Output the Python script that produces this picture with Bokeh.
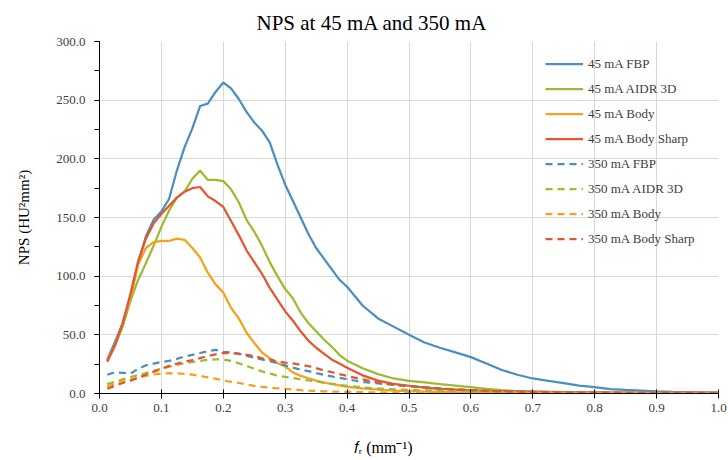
from bokeh.plotting import figure
from bokeh.models import (Range1d, SingleIntervalTicker, NumeralTickFormatter,
                          Legend, LegendItem, Title)
from bokeh.embed import file_html
from bokeh.resources import INLINE

# ---------------- data ----------------
freq = [0.0125, 0.025, 0.0375, 0.05, 0.0625, 0.075, 0.0875, 0.1, 0.1125, 0.125,
        0.1375, 0.15, 0.1625, 0.175, 0.1875, 0.2, 0.2125, 0.225, 0.2375, 0.25,
        0.2625, 0.275, 0.2875, 0.3, 0.3125, 0.325, 0.3375, 0.35, 0.3625, 0.375,
        0.3875, 0.4, 0.425, 0.45, 0.475, 0.5, 0.525, 0.55, 0.575, 0.6,
        0.625, 0.65, 0.675, 0.7, 0.725, 0.75, 0.775, 0.8, 0.825, 0.85,
        0.875, 0.9, 0.925, 0.95, 0.975, 1.0]

fbp_45 = [29, 44, 60, 82, 111, 134, 148, 155, 166, 190,
          210, 226, 245, 247, 257, 265, 260, 251, 240, 231,
          224, 214, 195, 178, 164, 150, 136, 124, 115, 106,
          97, 91, 75, 64, 57, 50, 43.5, 39, 35, 31,
          25.5, 20, 16, 12.8, 10.8, 8.8, 6.8, 5.4, 3.8, 3.1,
          2.5, 1.8, 1.4, 1.2, 1.0, 0.9]

aidr_45 = [28, 41, 57, 79, 97, 111, 126, 142, 156, 167,
           172, 183, 190, 182, 182, 181, 174, 163, 148, 138,
           126, 112, 100, 89, 81, 69, 60, 53, 46, 40,
           33, 28, 21.5, 16.5, 12.8, 10.8, 9.4, 8, 6.8, 5.4,
           4, 2.8, 2.1, 1.7, 1.4, 1.2, 1.0, 0.9, 0.8, 0.7,
           0.6, 0.6, 0.5, 0.5, 0.5, 0.4]

body_45 = [28, 41, 60, 82, 110, 124, 129, 130, 130, 132,
           131, 124, 116, 103, 93, 86, 73, 64, 52, 43,
           35, 30, 26, 23, 18, 15, 13, 11, 9.2, 8.1,
           6.9, 5.6, 4.3, 3.2, 2.4, 2, 1.6, 1.3, 1.1, 1,
           0.9, 0.8, 0.7, 0.6, 0.5, 0.5, 0.4, 0.4, 0.4, 0.4,
           0.3, 0.3, 0.3, 0.3, 0.3, 0.3]

sharp_45 = [27, 41, 60, 85, 113, 132, 145, 153, 160, 167,
            172, 175, 176, 168, 164, 159, 147, 135, 122, 112,
            102, 90, 80, 70, 62, 53, 45, 39, 34, 29,
            25.5, 22, 15.5, 11, 8.2, 6.6, 5, 4, 3.3, 2.6,
            2.2, 1.9, 1.7, 1.5, 1.3, 1.1, 1.0, 0.9, 0.8, 0.7,
            0.6, 0.6, 0.5, 0.5, 0.5, 0.4]

fbp_350 = [16, 18, 17.5, 17, 21, 24, 25.5, 26.8, 27.8, 29.5,
           31.6, 33, 34.5, 36, 37.2, 35.5, 35, 34, 32, 30.5,
           29, 27.5, 25.8, 24, 22, 20.3, 19, 17.3, 15.9, 14.6,
           13.3, 12.2, 9.8, 8.6, 7.4, 6.3, 5.3, 4.3, 3.5, 2.8,
           2.2, 1.8, 1.5, 1.2, 1.0, 0.9, 0.8, 0.7, 0.6, 0.6,
           0.5, 0.5, 0.5, 0.4, 0.4, 0.4]

aidr_350 = [8, 10, 12, 14, 15.7, 17.3, 19.3, 21, 22.8, 24.3,
            25.8, 26.8, 27.8, 28.7, 29, 29, 27.8, 25.8, 23.4, 21.2,
            18.8, 17, 15.3, 14.2, 13.1, 12, 11.2, 10.2, 9.3, 8.3,
            7.3, 6.6, 5.2, 4.3, 3.6, 3.1, 2.7, 2.4, 2.1, 1.8,
            1.5, 1.3, 1.1, 1.0, 0.9, 0.8, 0.7, 0.7, 0.6, 0.6,
            0.5, 0.5, 0.5, 0.4, 0.4, 0.4]

body_350 = [6, 8, 10, 11.7, 13.4, 15, 16.2, 17, 17.3, 17.2,
            16.8, 16, 15, 13.8, 12.6, 11.1, 10, 9, 7.6, 6.5,
            5.6, 5, 4.4, 4, 3.5, 2.9, 2.4, 2.1, 1.9, 1.7,
            1.5, 1.4, 1.1, 0.9, 0.8, 0.7, 0.6, 0.6, 0.5, 0.5,
            0.5, 0.4, 0.4, 0.4, 0.4, 0.3, 0.3, 0.3, 0.3, 0.3,
            0.3, 0.2, 0.2, 0.2, 0.2, 0.2]

sharp_350 = [4, 6.5, 9, 11, 13.5, 16, 18.5, 21, 23.5, 25.5,
             27, 28.5, 30.2, 32, 33.3, 34.6, 34.3, 33.8, 33, 32,
             30, 29, 27.3, 26.4, 25.6, 24.4, 23.3, 21.6, 19.6, 18.3,
             16.5, 15, 12, 9.4, 7.5, 6.3, 5.3, 4.2, 3.4, 2.8,
             2.3, 1.9, 1.6, 1.3, 1.1, 1.0, 0.9, 0.8, 0.7, 0.6,
             0.6, 0.5, 0.5, 0.5, 0.4, 0.4]

series_names = ["45 mA FBP", "45 mA AIDR 3D", "45 mA Body", "45 mA Body Sharp",
                "350 mA FBP", "350 mA AIDR 3D", "350 mA Body", "350 mA Body Sharp"]
series_values = [fbp_45, aidr_45, body_45, sharp_45,
                 fbp_350, aidr_350, body_350, sharp_350]

title_text = "NPS at 45 mA and 350 mA"
y_label_text = "NPS (HU\u00b2mm\u00b2)"
x_label_text = "\U0001d453\u1d63 (mm\u207b\u00b9)"

# ---------------- styling ----------------
BLUE, GREEN, ORANGE, RED = "#4a8fbf", "#9cbb2f", "#f7a01c", "#e4572e"
colors = [BLUE, GREEN, ORANGE, RED, BLUE, GREEN, ORANGE, RED]
dashes = ["solid"] * 4 + ["7 5"] * 4
FONT = "Liberation Serif"
TXT = "#404040"

p = figure(width=728, height=460, output_backend="svg", toolbar_location=None,
           x_range=Range1d(0, 1), y_range=Range1d(0, 300),
           min_border_left=99, min_border_right=10, min_border_top=41,
           min_border_bottom=67)
p.outline_line_color = None
p.background_fill_color = "white"
p.border_fill_color = "white"

p.title.text = title_text
p.title.align = "left"
p.title.offset = 157
p.title.text_font = FONT
p.title.text_font_size = "21px"
p.title.text_font_style = "normal"
p.title.text_color = "black"
p.title.standoff = 14

items = []
for name, vals, c, d in zip(series_names, series_values, colors, dashes):
    r = p.line(freq, vals, line_color=c, line_width=2.25, line_dash=d)
    items.append(LegendItem(label=name, renderers=[r]))

# axes
p.xaxis.ticker = SingleIntervalTicker(interval=0.1, num_minor_ticks=0)
p.yaxis.ticker = SingleIntervalTicker(interval=50, num_minor_ticks=2)
p.xaxis.formatter = NumeralTickFormatter(format="0.0")
p.yaxis.formatter = NumeralTickFormatter(format="0.0")
for ax in (p.xaxis[0], p.yaxis[0]):
    ax.axis_line_color = "black"
    ax.major_tick_line_color = "black"
    ax.minor_tick_line_color = "black"
    ax.major_label_text_font = FONT
    ax.major_label_text_font_size = "13px"
    ax.major_label_text_color = TXT
    ax.axis_label_text_font = FONT
    ax.axis_label_text_font_style = "normal"
    ax.axis_label_text_color = "black"
p.xaxis.major_tick_in = 4
p.xaxis.major_tick_out = 5
p.xaxis.major_label_standoff = 5
p.yaxis.major_tick_in = 0
p.yaxis.major_tick_out = 5
p.yaxis.minor_tick_in = 0
p.yaxis.minor_tick_out = 5
p.yaxis.major_label_standoff = 9

p.yaxis.axis_label = y_label_text
p.yaxis.axis_label_text_font_size = "15px"
p.yaxis.axis_label_standoff = 21

# tiny blank axis label used only as a spacer below the tick labels
p.xaxis.axis_label = " "
p.xaxis.axis_label_text_font_size = "1px"
p.xaxis.axis_label_standoff = 16

# x label as a title in the panel below the axis, shifted left as in the reference
x_title = Title(text=x_label_text, align="left", offset=254,
                text_font=FONT, text_font_size="16px",
                text_font_style="normal", text_color="black", standoff=4)
p.add_layout(x_title, "below")

p.xgrid.grid_line_color = "#d9d9d9"
p.ygrid.grid_line_color = "#d9d9d9"
p.xgrid.grid_line_width = 1
p.ygrid.grid_line_width = 1

# legend
legend = Legend(items=items, location=(446, 142), padding=0, margin=0,
                spacing=0, glyph_width=38, glyph_height=25, label_height=25,
                label_standoff=5, background_fill_alpha=0,
                border_line_color=None,
                label_text_font=FONT, label_text_font_size="13px",
                label_text_color=TXT)
p.add_layout(legend)

open("out.html", "w").write(file_html(p, INLINE))
